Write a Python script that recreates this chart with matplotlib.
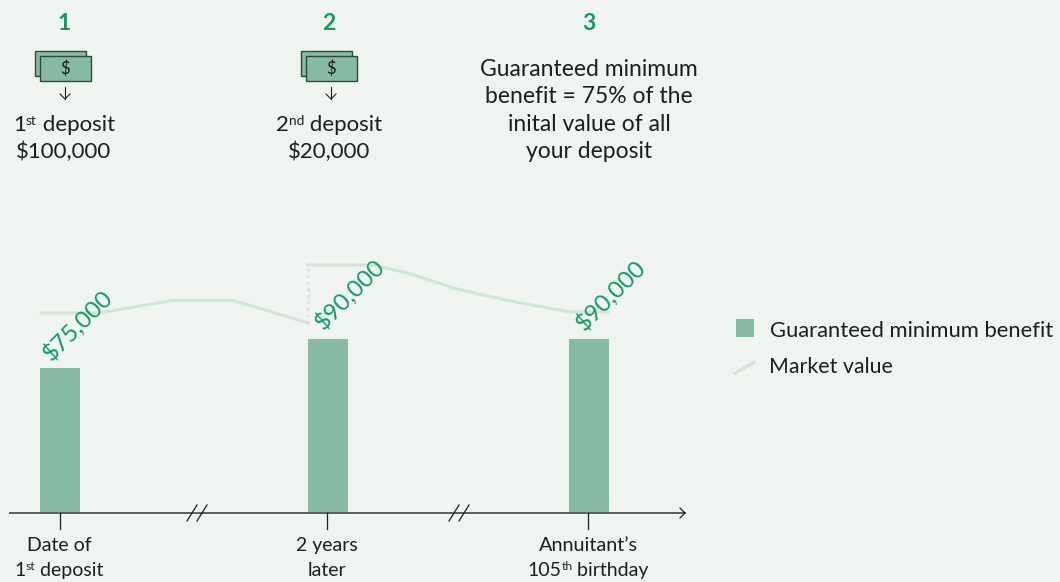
import matplotlib
matplotlib.use('Agg')
import matplotlib.pyplot as plt
from matplotlib.patches import Rectangle

# guaranteed minimum benefit
bar_pos = [60, 328, 589]
bar_values = [75000, 90000, 90000]
bar_labels = ['$75,000', '$90,000', '$90,000']

# market value, before and after the 2nd deposit
market_x1 = [41, 100, 172, 234, 308]
market_y1 = [103500, 103500, 109900, 109900, 98300]
market_x2 = [308, 372, 408, 453, 505, 570, 608]
market_y2 = [128300, 128300, 124100, 116400, 110200, 104000, 104000]

steps = ['1', '2', '3']
tick_pos = [60, 327, 588]

BG = '#eff4f0'
BAR = '#86baa2'
LINE = '#d1e4da'
GREEN = '#0f9a68'
INK = '#1c1f1e'
AXIS = '#5c5f5c'
FONT = 'Lato'
SIZE = 16

plt.rcParams['font.family'] = [FONT, 'DejaVu Sans']

W, H = 1060, 582
fig = plt.figure(figsize=(W / 100, H / 100), dpi=100, facecolor=BG)

# data axes: x in layout units, y in dollars, baseline at pixel row 513
per_px = 75000 / 145
ax = fig.add_axes([0, 0, 1, 1])
ax.set_xlim(0, W)
ax.set_ylim(-(H - 513) * per_px, 513 * per_px)
ax.axis('off')

ax.plot(market_x1, market_y1, color=LINE, lw=2.2, solid_joinstyle='round', zorder=1)
ax.plot(market_x2, market_y2, color=LINE, lw=2.2, solid_joinstyle='round', zorder=1)
ax.plot([308, 308], [market_y1[-1], market_y2[0]], color=LINE, lw=1.8, ls=(0, (1, 1.6)), zorder=1)
ax.bar(bar_pos, bar_values, width=40, color=BAR, zorder=2)

# overlay in pixel coordinates for the annotation layer
ov = fig.add_axes([0, 0, 1, 1])
ov.set_xlim(0, W)
ov.set_ylim(H, 0)
ov.axis('off')
ov.patch.set_alpha(0)


def mixed_line(cx, y, runs, size=SIZE, color=INK):
    # runs of (text, is_superscript), centred as one line on cx
    renderer = fig.canvas.get_renderer()
    items = []
    total = 0
    for s, sup in runs:
        t = ov.text(0, y - (6 if sup else 0), s, fontsize=size * (0.62 if sup else 1),
                    color=color, ha='left', va='baseline')
        # trailing spaces are not measured, so measure with a guard character
        w = t.get_window_extent(renderer).width
        if s.startswith(' '):
            g = ov.text(0, 0, 'x' + s, fontsize=size)
            g2 = ov.text(0, 0, 'x', fontsize=size)
            w = g.get_window_extent(renderer).width - g2.get_window_extent(renderer).width
            g.remove()
            g2.remove()
        items.append((t, w))
        total += w
    x = cx - total / 2
    for t, w in items:
        t.set_x(x)
        x += w


# step numbers
for cx, s in zip([64, 329, 589], steps):
    ov.text(cx, 23, s, color=GREEN, fontsize=16.5, fontweight='bold', ha='center', va='center')

# bank note icons
for x0 in [35, 301]:
    ov.add_patch(Rectangle((x0, 51), 51, 25, fc=BAR, ec='#2f4a3d', lw=1.0, zorder=3))
    ov.add_patch(Rectangle((x0 + 5, 56), 51, 25, fc=BAR, ec='#2f4a3d', lw=1.0, zorder=4))
    ov.text(x0 + 30, 68.5, '$', color=INK, fontsize=12, ha='center', va='center', zorder=5)
    ax_x = x0 + 30
    ov.plot([ax_x, ax_x], [87, 99], color=INK, lw=0.8)
    ov.plot([ax_x - 5, ax_x, ax_x + 5], [94, 99, 94], color=INK, lw=0.8)

mixed_line(64, 131, [('1', False), ('st', True), (' deposit', False)])
ov.text(64, 158, '$100,000', fontsize=SIZE, color=INK, ha='center', va='baseline')
mixed_line(329, 131, [('2', False), ('nd', True), (' deposit', False)])
ov.text(329, 158, '$20,000', fontsize=SIZE, color=INK, ha='center', va='baseline')

note = ['Guaranteed minimum', 'benefit = 75% of the', 'inital value of all', 'your deposit']
for i, s in enumerate(note):
    ov.text(589, 76 + i * 27.3, s, fontsize=16.5, color=INK, ha='center', va='baseline')

# rotated value labels
for (cx, cy), s in zip([(78, 325), (350, 294), (611, 295)], bar_labels):
    ov.text(cx, cy, s, color=GREEN, fontsize=17.3, rotation=45, ha='center', va='center',
            rotation_mode='anchor', zorder=6)

# time axis with breaks and arrow head
ov.plot([10, 685], [513, 513], color=AXIS, lw=1.4, zorder=3)
ov.plot([680, 685, 680], [508, 513, 518], color=INK, lw=0.9, zorder=3)
for x in tick_pos:
    ov.plot([x, x], [513, 529], color=INK, lw=0.9, zorder=3)
for x in [192, 202, 454, 464]:
    ov.plot([x - 5, x + 5], [521, 505], color=INK, lw=0.9, zorder=3)

ov.text(59, 551, 'Date of', fontsize=14, color=INK, ha='center', va='baseline')
mixed_line(59, 576, [('1', False), ('st', True), (' deposit', False)], size=14)
ov.text(327, 551, '2 years', fontsize=14, color=INK, ha='center', va='baseline')
ov.text(327, 576, 'later', fontsize=14, color=INK, ha='center', va='baseline')
ov.text(588, 551, 'Annuitant\u2019s', fontsize=14.3, color=INK, ha='center', va='baseline')
mixed_line(588, 576, [('105', False), ('th', True), (' birthday', False)], size=14)

# legend
ov.add_patch(Rectangle((736, 319), 18, 18, fc=BAR, ec='none'))
ov.plot([735, 754], [373.5, 362], color=LINE, lw=2.2)
ov.text(770, 337, 'Guaranteed minimum benefit', fontsize=15.85, color=INK, ha='left', va='baseline')
ov.text(769, 373, 'Market value', fontsize=15.4, color=INK, ha='left', va='baseline')

fig.savefig('out.png', dpi=100, facecolor=BG)
